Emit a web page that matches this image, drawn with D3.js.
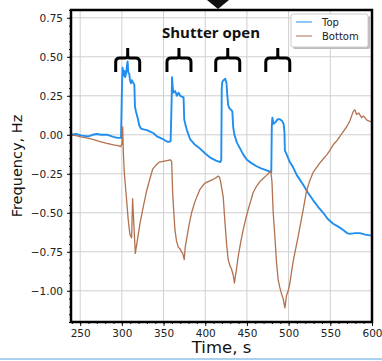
<!DOCTYPE html>
<html>
<head>
<meta charset="utf-8">
<script src="https://cdn.jsdelivr.net/npm/d3@7"></script>
<style>
  body { margin: 0; background: #fff; }
  svg { display: block; }
</style>
</head>
<body>
<svg id="chart"></svg>
<script>
// time (s) and frequency (Hz)
const topTime = [239, 245, 252, 260, 265, 270, 275, 283, 288, 291, 295, 299,
  300.1, 300.8, 302, 302.9, 304, 304.9, 306.3, 306.9, 307.7, 308.9, 309.7, 310.9, 312, 312.9, 314.1, 315,
  315.7, 316.9, 318.9, 320.9, 322.9, 326, 330, 334, 338, 342, 346, 350, 354, 357, 358.5,
  359.6, 360.2, 361, 362, 364, 366, 368, 370, 372, 374,
  374.8, 376, 378, 382, 387, 394, 400, 407, 413, 418,
  419.2, 419.8, 420.5, 422, 424, 425.5, 426.5, 427.5, 429, 431, 432.5,
  433.5, 435, 438, 442, 446, 450, 455, 461, 467, 472, 477, 479.2,
  479.8, 480.5, 482, 484, 487, 489.5, 492, 494, 495,
  495.5, 498, 501, 505.5, 510, 517.5, 523, 529.5, 535, 541.5, 547, 553.5, 560, 565.5, 570, 573.5, 580, 585.5, 592, 597.5, 600];
const topFreq = [0.00, 0.005, -0.005, -0.01, 0.0, 0.005, 0.0, 0.0, -0.01, -0.015, -0.02, -0.02,
  0.30, 0.43, 0.38, 0.41, 0.37, 0.39, 0.45, 0.47, 0.40, 0.39, 0.35, 0.33, 0.35, 0.34, 0.33, 0.32,
  0.18, 0.15, 0.11, 0.06, 0.04, 0.035, 0.03, 0.02, 0.01, -0.01, -0.02, -0.03, -0.043, -0.045, -0.04,
  0.20, 0.37, 0.30, 0.27, 0.28, 0.25, 0.27, 0.25, 0.245, 0.24,
  0.10, 0.07, 0.03, -0.03, -0.06, -0.09, -0.12, -0.15, -0.165, -0.175,
  -0.16, 0.30, 0.34, 0.35, 0.36, 0.33, 0.25, 0.19, 0.17, 0.16, 0.15,
  0.05, 0.00, -0.05, -0.09, -0.13, -0.16, -0.18, -0.20, -0.215, -0.225, -0.235, -0.24,
  0.05, 0.11, 0.07, 0.08, 0.10, 0.10, 0.09, 0.07, 0.02,
  -0.10, -0.13, -0.17, -0.21, -0.26, -0.32, -0.37, -0.42, -0.46, -0.50, -0.54, -0.57, -0.59, -0.61, -0.63, -0.635, -0.63, -0.63, -0.64, -0.645, -0.645];

const bottomTime = [239, 245, 252, 258, 265, 274, 282, 290, 295, 298.6, 300, 301,
  301.7, 303, 305.7, 307.7, 309.7, 311.7, 312.9, 314.9, 316.1, 318.5, 321.7, 325.7, 329.7, 333.7, 337, 341.7, 345, 349.6, 354, 358,
  359.7, 360.9, 362.3, 363.7, 365.5, 367.7, 369.5, 371.7, 373, 374.8,
  376, 377.6, 380.5, 383.6, 387.6, 390.5, 393.6, 396.5, 399.6, 403.5, 407.6, 411.5, 415.6, 417,
  418.4, 421.6, 423.5, 425.6, 427.5, 429.6, 431.5, 433.6, 435,
  437.5, 439.5, 442.5, 445.5, 448.5, 451.5, 457.5, 461.5, 465.5, 469.5, 473.5, 477, 478.7,
  480, 481.5, 483.5, 485.5, 487.5, 489.5, 491.5, 493.5, 495.5,
  497.5, 499.5, 501.5, 505.5, 511.5, 517.5, 521.5, 525, 529.5, 533.5, 537.5, 541.5, 545.5, 549.5, 553.5, 557.5, 561.5, 565.5, 569.5, 573.5, 577.5, 579.5, 581.5, 584, 587.5, 590, 593.5, 597.5, 600];
const bottomFreq = [0.00, -0.005, -0.015, -0.02, -0.03, -0.043, -0.055, -0.064, -0.07, -0.075, -0.06, 0.05,
  -0.10, -0.25, -0.42, -0.55, -0.64, -0.66, -0.41, -0.63, -0.76, -0.68, -0.57, -0.46, -0.36, -0.28, -0.22, -0.19, -0.175, -0.17, -0.165, -0.16,
  -0.17, -0.37, -0.50, -0.61, -0.68, -0.72, -0.73, -0.75, -0.76, -0.80,
  -0.72, -0.67, -0.58, -0.50, -0.43, -0.39, -0.35, -0.33, -0.31, -0.30, -0.29, -0.28, -0.265, -0.27,
  -0.30, -0.40, -0.55, -0.70, -0.80, -0.84, -0.86, -0.90, -0.95,
  -0.86, -0.78, -0.69, -0.61, -0.54, -0.48, -0.37, -0.33, -0.30, -0.28, -0.26, -0.24, -0.235,
  -0.30, -0.50, -0.65, -0.82, -0.93, -0.98, -1.02, -1.05, -1.11,
  -1.03, -1.00, -0.95, -0.81, -0.65, -0.48, -0.36, -0.30, -0.24, -0.21, -0.18, -0.155, -0.13, -0.10, -0.064, -0.04, -0.01, 0.02, 0.05, 0.09, 0.15, 0.16, 0.13, 0.14, 0.11, 0.12, 0.096, 0.085, 0.09];

const xTicks = [250, 300, 350, 400, 450, 500, 550, 600];
const yTicks = [-1.0, -0.75, -0.5, -0.25, 0.0, 0.25, 0.5, 0.75];
const shutterTimes = [307, 368.5, 427, 487];
const seriesNames = ['Top', 'Bottom'];
const seriesColors = ['#1f8ef1', '#b3714f'];

const width = 382, height = 361;
const margin = {top: 10, right: 10, bottom: 39, left: 71};
const iw = width - margin.left - margin.right;
const ih = height - margin.top - margin.bottom;

const svg = d3.select('#chart').attr('width', width).attr('height', height);

const x = d3.scaleLinear().domain([239, 600]).range([0, iw]);
const y = d3.scaleLinear().domain([-1.2, 0.8]).range([ih, 0]);

// bits of the surrounding figure
svg.append('path')
  .attr('d', 'M207,0 L229,0 L218,9 Z')
  .attr('fill', '#111');
svg.append('line')
  .attr('x1', 0).attr('x2', width).attr('y1', 359).attr('y2', 359)
  .attr('stroke', '#a9d1ef').attr('stroke-width', 2);

const g = svg.append('g').attr('transform', `translate(${margin.left},${margin.top})`);

// grid
g.append('g').selectAll('line').data(xTicks).join('line')
  .attr('x1', d => x(d)).attr('x2', d => x(d)).attr('y1', 0).attr('y2', ih)
  .attr('stroke', '#cfcfcf').attr('stroke-width', 1);
g.append('g').selectAll('line').data(yTicks).join('line')
  .attr('x1', 0).attr('x2', iw).attr('y1', d => y(d)).attr('y2', d => y(d))
  .attr('stroke', '#cfcfcf').attr('stroke-width', 1);

// axes
const styleAxis = sel => {
  sel.select('.domain').remove();
  sel.selectAll('text').attr('font-family', 'DejaVu Sans').attr('font-size', 10.5).attr('fill', '#222');
  sel.selectAll('line').attr('stroke', '#111');
};

g.append('g').attr('transform', `translate(0,${ih})`)
  .call(d3.axisBottom(x).tickValues(d3.range(240, 601, 10)).tickSize(2).tickFormat(''))
  .call(styleAxis);
g.append('g').attr('transform', `translate(0,${ih})`)
  .call(d3.axisBottom(x).tickValues(xTicks).tickSize(4).tickPadding(4).tickFormat(d3.format('d')))
  .call(styleAxis);

g.append('g')
  .call(d3.axisLeft(y).tickValues(d3.range(-1.2, 0.801, 0.05)).tickSize(2).tickFormat(''))
  .call(styleAxis);
g.append('g')
  .call(d3.axisLeft(y).tickValues(yTicks).tickSize(4).tickPadding(4).tickFormat(d3.format('.2f')))
  .call(styleAxis);
g.selectAll('text').text(function() { return this.textContent.replace('-', '\u2212'); });

// lines
const line = d3.line().x(d => x(d[0])).y(d => y(d[1]));
const topData = d3.zip(topTime, topFreq);
const bottomData = d3.zip(bottomTime, bottomFreq);

g.append('path').datum(topData)
  .attr('d', line).attr('fill', 'none')
  .attr('stroke', seriesColors[0]).attr('stroke-width', 1.9).attr('stroke-linejoin', 'round');
g.append('path').datum(bottomData)
  .attr('d', line).attr('fill', 'none')
  .attr('stroke', seriesColors[1]).attr('stroke-width', 1.3).attr('stroke-linejoin', 'round');

// frame
g.append('rect').attr('width', iw).attr('height', ih)
  .attr('fill', 'none').attr('stroke', '#000').attr('stroke-width', 2.5);

// shutter annotations
g.append('g').selectAll('path').data(shutterTimes).join('path')
  .attr('transform', d => `translate(${x(d)},38)`)
  .attr('d', 'M-12,24 L-12,14 Q-12,10 -8,10 L-2,10 Q0,10 0,6 L0,0 M0,6 Q0,10 2,10 L8,10 Q12,10 12,14 L12,24')
  .attr('fill', 'none').attr('stroke', '#000').attr('stroke-width', 3);

svg.append('text')
  .attr('x', 211).attr('y', 38)
  .attr('text-anchor', 'middle')
  .attr('font-family', 'Open Sans').attr('font-weight', 'bold').attr('font-size', 15)
  .attr('fill', '#111')
  .text('Shutter open');

// legend
const lg = svg.append('g').attr('transform', 'translate(291,14)');
lg.append('rect').attr('x', 2).attr('y', 2).attr('width', 77).attr('height', 33).attr('rx', 2)
  .attr('fill', '#bbb');
lg.append('rect').attr('width', 77).attr('height', 33).attr('rx', 2)
  .attr('fill', '#fff').attr('stroke', '#ccc');
seriesNames.forEach((name, i) => {
  lg.append('line').attr('x1', 5).attr('x2', 21).attr('y1', 8 + i * 14).attr('y2', 8 + i * 14)
    .attr('stroke', seriesColors[i]).attr('stroke-width', 1);
  lg.append('text').attr('x', 31).attr('y', 12 + i * 14)
    .attr('font-family', 'DejaVu Sans').attr('font-size', 10).attr('fill', '#222')
    .text(name);
});

// axis titles
svg.append('text')
  .attr('x', margin.left + iw / 2).attr('y', 353)
  .attr('text-anchor', 'middle')
  .attr('font-family', 'DejaVu Sans').attr('font-size', 16.5).attr('fill', '#111')
  .text('Time, s');
svg.append('text')
  .attr('transform', `translate(22,${margin.top + ih / 2}) rotate(-90)`)
  .attr('text-anchor', 'middle')
  .attr('font-family', 'DejaVu Sans').attr('font-size', 14.5).attr('fill', '#111')
  .text('Frequency, Hz');
</script>
</body>
</html>
